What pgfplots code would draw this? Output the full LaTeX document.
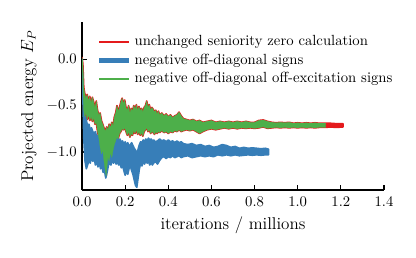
\documentclass[border=0pt]{standalone}
\usepackage{pgfplots}
\pgfplotsset{compat=1.18}
\definecolor{setred}{HTML}{E41A1C}
\definecolor{setblue}{HTML}{377EB8}
\definecolor{setgreen}{HTML}{4DAF4A}
\begin{document}
\begin{tikzpicture}
\begin{axis}[
  name=ax,
  scale only axis,
  width=205.4pt, height=114.3pt,
  xmin=0, xmax=1.4, ymin=-1.41, ymax=0.40,
  axis x line*=bottom, axis y line*=left,
  axis line style={line width=1.2pt, -},
  xtick={0,0.2,...,1.4}, ytick={-1,-0.5,0},
  tick align=inside, major tick length=3.5pt,
  tick style={line width=0.8pt, black},
  xticklabel style={yshift=-1.5pt, /pgf/number format/.cd, fixed, fixed zerofill, precision=1},
  yticklabel style={/pgf/number format/.cd, fixed, fixed zerofill, precision=1},
  xlabel={iterations / millions},
  ylabel={Projected energy $E_P$},
  label style={font=\fontsize{11.6}{14}\selectfont},
  legend image code/.code={\draw[#1] (0pt,0pt) -- (15.6pt,0pt); \path (0pt,0pt) -- (20.4pt,0pt);},
  legend style={draw=none, fill=none, at={(axis description cs:0.033,0.955)}, anchor=north west, font=\normalsize},
  legend cell align=left,
]
\addlegendimage{setred, line width=2pt}
\addlegendentry{unchanged seniority zero calculation}
\addlegendimage{setblue, line width=3.4pt}
\addlegendentry{negative off-diagonal signs}
\addlegendimage{setgreen, line width=1.4pt}
\addlegendentry{negative off-diagonal off-excitation signs}

% red band (upper then lower reversed)
\addplot[forget plot, draw=setred, fill=setred, line width=1.1pt, line join=round] coordinates {
(0.000,0.02) (0.004,-0.05) (0.008,-0.30) (0.012,-0.36) (0.018,-0.42) (0.024,-0.38) (0.030,-0.45) (0.036,-0.40) (0.042,-0.47) (0.048,-0.41) (0.054,-0.46) (0.060,-0.52) (0.066,-0.45) (0.072,-0.55) (0.078,-0.60) (0.084,-0.58) (0.090,-0.66) (0.096,-0.70) (0.102,-0.74) (0.108,-0.78) (0.114,-0.73) (0.120,-0.76) (0.126,-0.70) (0.132,-0.74) (0.138,-0.68) (0.144,-0.72) (0.150,-0.62) (0.156,-0.58) (0.162,-0.50) (0.168,-0.56) (0.174,-0.52) (0.180,-0.46) (0.186,-0.42) (0.192,-0.48) (0.198,-0.44) (0.204,-0.52) (0.210,-0.55) (0.216,-0.50) (0.222,-0.58) (0.228,-0.53) (0.234,-0.56) (0.240,-0.50) (0.246,-0.54) (0.252,-0.49) (0.258,-0.55) (0.264,-0.51) (0.270,-0.56) (0.276,-0.53) (0.282,-0.57) (0.288,-0.52) (0.294,-0.50) (0.300,-0.45) (0.306,-0.52) (0.312,-0.49) (0.318,-0.55) (0.324,-0.52) (0.330,-0.54) (0.336,-0.57) (0.342,-0.55) (0.348,-0.59) (0.354,-0.56) (0.360,-0.60) (0.370,-0.58) (0.380,-0.61) (0.390,-0.59) (0.400,-0.62) (0.410,-0.60) (0.420,-0.63) (0.430,-0.61) (0.440,-0.60) (0.450,-0.57) (0.460,-0.61) (0.470,-0.64) (0.485,-0.65) (0.500,-0.66) (0.515,-0.65) (0.530,-0.67) (0.545,-0.66) (0.560,-0.68) (0.580,-0.67) (0.600,-0.66) (0.620,-0.68) (0.640,-0.67) (0.660,-0.68) (0.680,-0.67) (0.700,-0.68) (0.720,-0.67) (0.740,-0.68) (0.760,-0.67) (0.780,-0.68) (0.800,-0.68) (0.820,-0.66) (0.840,-0.655) (0.860,-0.67) (0.880,-0.68) (0.900,-0.685) (0.920,-0.68) (0.940,-0.685) (0.960,-0.68) (0.980,-0.69) (1.000,-0.685) (1.020,-0.69) (1.040,-0.685) (1.060,-0.69) (1.080,-0.685) (1.100,-0.69) (1.130,-0.69) (1.150,-0.69) (1.180,-0.695) (1.210,-0.695)
(1.210,-0.73) (1.180,-0.735) (1.150,-0.73) (1.130,-0.735) (1.100,-0.735) (1.080,-0.74) (1.060,-0.735) (1.040,-0.74) (1.020,-0.735) (1.000,-0.74) (0.980,-0.735) (0.960,-0.74) (0.940,-0.735) (0.920,-0.74) (0.900,-0.735) (0.880,-0.74) (0.860,-0.745) (0.840,-0.73) (0.820,-0.74) (0.800,-0.745) (0.780,-0.74) (0.760,-0.745) (0.740,-0.74) (0.720,-0.75) (0.700,-0.74) (0.680,-0.75) (0.660,-0.74) (0.640,-0.75) (0.620,-0.76) (0.600,-0.75) (0.580,-0.76) (0.560,-0.78) (0.545,-0.80) (0.530,-0.78) (0.515,-0.76) (0.500,-0.77) (0.485,-0.76) (0.470,-0.77) (0.460,-0.78) (0.450,-0.76) (0.440,-0.78) (0.430,-0.77) (0.420,-0.79) (0.410,-0.78) (0.400,-0.80) (0.390,-0.78) (0.380,-0.79) (0.370,-0.77) (0.360,-0.79) (0.354,-0.78) (0.348,-0.80) (0.342,-0.78) (0.336,-0.81) (0.330,-0.79) (0.324,-0.78) (0.318,-0.80) (0.312,-0.76) (0.306,-0.78) (0.300,-0.74) (0.294,-0.76) (0.288,-0.78) (0.282,-0.83) (0.276,-0.79) (0.270,-0.82) (0.264,-0.78) (0.258,-0.81) (0.252,-0.76) (0.246,-0.80) (0.240,-0.77) (0.234,-0.82) (0.228,-0.80) (0.222,-0.84) (0.216,-0.78) (0.210,-0.82) (0.204,-0.78) (0.198,-0.74) (0.192,-0.76) (0.186,-0.75) (0.180,-0.78) (0.174,-0.80) (0.168,-0.86) (0.162,-0.84) (0.156,-0.88) (0.150,-0.92) (0.144,-0.98) (0.138,-1.06) (0.132,-1.00) (0.126,-1.10) (0.120,-1.05) (0.116,-1.15) (0.112,-1.26) (0.108,-1.20) (0.102,-1.10) (0.096,-0.98) (0.090,-1.02) (0.084,-0.95) (0.078,-0.85) (0.072,-0.78) (0.066,-0.68) (0.060,-0.70) (0.054,-0.63) (0.048,-0.67) (0.042,-0.62) (0.036,-0.66) (0.030,-0.60) (0.024,-0.65) (0.018,-0.58) (0.012,-0.62) (0.008,-0.55) (0.004,-0.30) (0.000,-0.02)
} -- cycle;

% blue band
\addplot[forget plot, draw=setblue, fill=setblue, line width=1.1pt, line join=round] coordinates {
(0.000,0.00) (0.004,-0.30) (0.008,-0.58) (0.014,-0.62) (0.020,-0.66) (0.026,-0.72) (0.032,-0.70) (0.038,-0.76) (0.044,-0.74) (0.050,-0.78) (0.056,-0.80) (0.062,-0.78) (0.068,-0.84) (0.074,-0.82) (0.080,-0.88) (0.086,-0.86) (0.092,-0.92) (0.098,-0.90) (0.104,-0.95) (0.110,-0.92) (0.116,-0.88) (0.122,-0.85) (0.128,-0.84) (0.134,-0.86) (0.140,-0.83) (0.146,-0.86) (0.152,-0.84) (0.158,-0.87) (0.164,-0.85) (0.170,-0.88) (0.176,-0.86) (0.182,-0.90) (0.188,-0.88) (0.194,-0.92) (0.200,-0.89) (0.206,-0.93) (0.212,-0.90) (0.218,-0.94) (0.224,-0.92) (0.230,-0.90) (0.236,-0.93) (0.242,-0.96) (0.248,-0.98) (0.254,-1.02) (0.260,-0.97) (0.266,-0.92) (0.272,-0.89) (0.278,-0.90) (0.284,-0.87) (0.290,-0.89) (0.296,-0.86) (0.302,-0.88) (0.308,-0.85) (0.314,-0.87) (0.320,-0.86) (0.326,-0.88) (0.332,-0.87) (0.340,-0.89) (0.350,-0.88) (0.360,-0.86) (0.370,-0.88) (0.380,-0.87) (0.390,-0.89) (0.400,-0.87) (0.410,-0.89) (0.420,-0.88) (0.430,-0.90) (0.440,-0.88) (0.450,-0.90) (0.460,-0.89) (0.470,-0.91) (0.490,-0.92) (0.510,-0.91) (0.530,-0.93) (0.550,-0.92) (0.570,-0.94) (0.590,-0.93) (0.610,-0.95) (0.630,-0.94) (0.650,-0.92) (0.670,-0.93) (0.690,-0.95) (0.710,-0.94) (0.730,-0.96) (0.750,-0.95) (0.770,-0.96) (0.790,-0.955) (0.810,-0.96) (0.830,-0.965) (0.850,-0.96) (0.865,-0.97)
(0.865,-1.03) (0.850,-1.03) (0.830,-1.035) (0.810,-1.03) (0.790,-1.035) (0.770,-1.03) (0.750,-1.035) (0.730,-1.04) (0.710,-1.03) (0.690,-1.04) (0.670,-1.03) (0.650,-1.04) (0.630,-1.03) (0.610,-1.05) (0.590,-1.04) (0.570,-1.05) (0.550,-1.04) (0.530,-1.05) (0.510,-1.06) (0.490,-1.04) (0.470,-1.05) (0.460,-1.06) (0.450,-1.04) (0.440,-1.05) (0.430,-1.06) (0.420,-1.04) (0.410,-1.06) (0.400,-1.05) (0.390,-1.07) (0.380,-1.05) (0.370,-1.06) (0.360,-1.09) (0.350,-1.13) (0.340,-1.10) (0.332,-1.12) (0.326,-1.14) (0.320,-1.11) (0.314,-1.14) (0.308,-1.10) (0.302,-1.12) (0.296,-1.09) (0.290,-1.13) (0.284,-1.10) (0.278,-1.15) (0.272,-1.12) (0.266,-1.18) (0.260,-1.28) (0.254,-1.38) (0.248,-1.36) (0.242,-1.30) (0.236,-1.24) (0.230,-1.20) (0.224,-1.15) (0.218,-1.18) (0.212,-1.24) (0.206,-1.20) (0.200,-1.25) (0.194,-1.20) (0.188,-1.14) (0.182,-1.17) (0.176,-1.12) (0.170,-1.14) (0.164,-1.10) (0.158,-1.13) (0.152,-1.09) (0.146,-1.12) (0.140,-1.08) (0.134,-1.14) (0.128,-1.10) (0.122,-1.15) (0.116,-1.22) (0.110,-1.28) (0.104,-1.20) (0.098,-1.22) (0.092,-1.15) (0.086,-1.18) (0.080,-1.12) (0.074,-1.16) (0.068,-1.10) (0.062,-1.14) (0.056,-1.06) (0.050,-1.10) (0.044,-1.05) (0.038,-1.12) (0.032,-1.08) (0.026,-1.14) (0.020,-1.18) (0.014,-1.10) (0.008,-0.85) (0.004,-0.40) (0.000,0.00)
} -- cycle;

% green band
\addplot[forget plot, draw=setgreen, fill=setgreen, line width=0.2pt, line join=round] coordinates {
(0.000,0.02) (0.004,-0.05) (0.008,-0.30) (0.012,-0.36) (0.018,-0.42) (0.024,-0.38) (0.030,-0.45) (0.036,-0.40) (0.042,-0.47) (0.048,-0.41) (0.054,-0.46) (0.060,-0.52) (0.066,-0.45) (0.072,-0.55) (0.078,-0.60) (0.084,-0.58) (0.090,-0.66) (0.096,-0.70) (0.102,-0.74) (0.108,-0.78) (0.114,-0.73) (0.120,-0.76) (0.126,-0.70) (0.132,-0.74) (0.138,-0.68) (0.144,-0.72) (0.150,-0.62) (0.156,-0.58) (0.162,-0.50) (0.168,-0.56) (0.174,-0.52) (0.180,-0.46) (0.186,-0.42) (0.192,-0.48) (0.198,-0.44) (0.204,-0.52) (0.210,-0.55) (0.216,-0.50) (0.222,-0.58) (0.228,-0.53) (0.234,-0.56) (0.240,-0.50) (0.246,-0.54) (0.252,-0.49) (0.258,-0.55) (0.264,-0.51) (0.270,-0.56) (0.276,-0.53) (0.282,-0.57) (0.288,-0.52) (0.294,-0.50) (0.300,-0.45) (0.306,-0.52) (0.312,-0.49) (0.318,-0.55) (0.324,-0.52) (0.330,-0.54) (0.336,-0.57) (0.342,-0.55) (0.348,-0.59) (0.354,-0.56) (0.360,-0.60) (0.370,-0.58) (0.380,-0.61) (0.390,-0.59) (0.400,-0.62) (0.410,-0.60) (0.420,-0.63) (0.430,-0.61) (0.440,-0.60) (0.450,-0.57) (0.460,-0.61) (0.470,-0.64) (0.485,-0.65) (0.500,-0.66) (0.515,-0.65) (0.530,-0.67) (0.545,-0.66) (0.560,-0.68) (0.580,-0.67) (0.600,-0.66) (0.620,-0.68) (0.640,-0.67) (0.660,-0.68) (0.680,-0.67) (0.700,-0.68) (0.720,-0.67) (0.740,-0.68) (0.760,-0.67) (0.780,-0.68) (0.800,-0.68) (0.820,-0.66) (0.840,-0.655) (0.860,-0.67) (0.880,-0.68) (0.900,-0.685) (0.920,-0.68) (0.940,-0.685) (0.960,-0.68) (0.980,-0.69) (1.000,-0.685) (1.020,-0.69) (1.040,-0.685) (1.060,-0.69) (1.080,-0.685) (1.100,-0.69) (1.130,-0.69)
(1.130,-0.735) (1.100,-0.735) (1.080,-0.74) (1.060,-0.735) (1.040,-0.74) (1.020,-0.735) (1.000,-0.74) (0.980,-0.735) (0.960,-0.74) (0.940,-0.735) (0.920,-0.74) (0.900,-0.735) (0.880,-0.74) (0.860,-0.745) (0.840,-0.73) (0.820,-0.74) (0.800,-0.745) (0.780,-0.74) (0.760,-0.745) (0.740,-0.74) (0.720,-0.75) (0.700,-0.74) (0.680,-0.75) (0.660,-0.74) (0.640,-0.75) (0.620,-0.76) (0.600,-0.75) (0.580,-0.76) (0.560,-0.78) (0.545,-0.80) (0.530,-0.78) (0.515,-0.76) (0.500,-0.77) (0.485,-0.76) (0.470,-0.77) (0.460,-0.78) (0.450,-0.76) (0.440,-0.78) (0.430,-0.77) (0.420,-0.79) (0.410,-0.78) (0.400,-0.80) (0.390,-0.78) (0.380,-0.79) (0.370,-0.77) (0.360,-0.79) (0.354,-0.78) (0.348,-0.80) (0.342,-0.78) (0.336,-0.81) (0.330,-0.79) (0.324,-0.78) (0.318,-0.80) (0.312,-0.76) (0.306,-0.78) (0.300,-0.74) (0.294,-0.76) (0.288,-0.78) (0.282,-0.83) (0.276,-0.79) (0.270,-0.82) (0.264,-0.78) (0.258,-0.81) (0.252,-0.76) (0.246,-0.80) (0.240,-0.77) (0.234,-0.82) (0.228,-0.80) (0.222,-0.84) (0.216,-0.78) (0.210,-0.82) (0.204,-0.78) (0.198,-0.74) (0.192,-0.76) (0.186,-0.75) (0.180,-0.78) (0.174,-0.80) (0.168,-0.86) (0.162,-0.84) (0.156,-0.88) (0.150,-0.92) (0.144,-0.98) (0.138,-1.06) (0.132,-1.00) (0.126,-1.10) (0.120,-1.05) (0.116,-1.15) (0.112,-1.26) (0.108,-1.20) (0.102,-1.10) (0.096,-0.98) (0.090,-1.02) (0.084,-0.95) (0.078,-0.85) (0.072,-0.78) (0.066,-0.68) (0.060,-0.70) (0.054,-0.63) (0.048,-0.67) (0.042,-0.62) (0.036,-0.66) (0.030,-0.60) (0.024,-0.65) (0.018,-0.58) (0.012,-0.62) (0.008,-0.55) (0.004,-0.30) (0.000,-0.02)
} -- cycle;
\end{axis}
\path ([shift={(-55.8pt,-45.6pt)}]ax.south west) rectangle ([shift={(21.8pt,15pt)}]ax.north east);
\end{tikzpicture}
\end{document}
